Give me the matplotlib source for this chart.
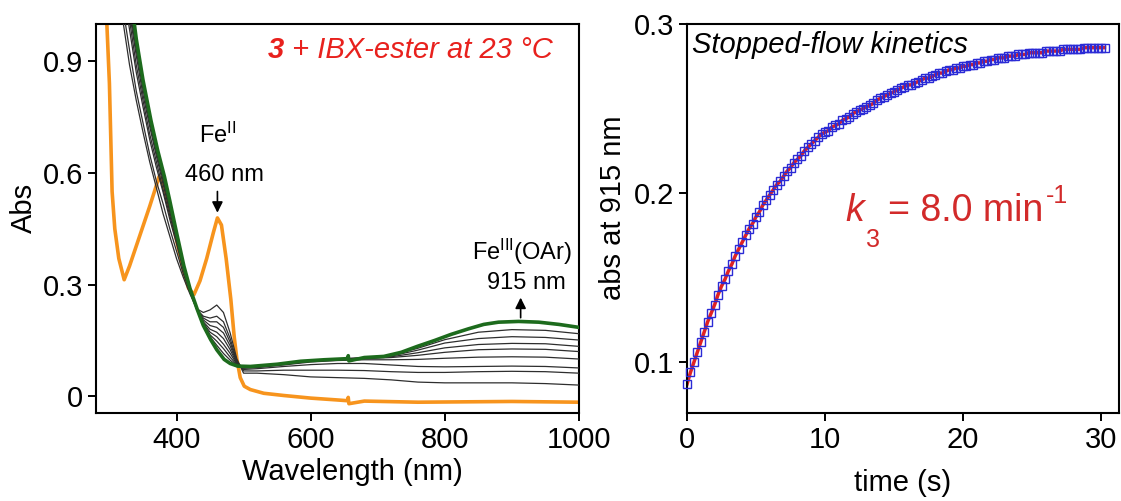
import matplotlib.pyplot as plt

plt.rcParams["font.family"] = ["Liberation Sans", "DejaVu Sans"]
plt.rcParams["mathtext.fontset"] = "custom"
plt.rcParams["mathtext.rm"] = "Liberation Sans"
plt.rcParams["mathtext.it"] = "Liberation Sans:italic"
plt.rcParams["mathtext.bf"] = "Liberation Sans:bold"

# ---- left panel: UV-vis spectra ----
orange_nm = [295, 300, 304, 308, 314, 322, 330, 345, 360, 368,
             374, 380, 390, 400, 410, 418, 426, 435, 445, 455,
             461, 467, 474, 481, 486, 490, 495, 501, 510, 530,
             560, 600, 640, 655, 656, 657, 680, 760, 900, 1000]
orange_abs = [1.05, 0.84, 0.55, 0.45, 0.37, 0.313, 0.35, 0.43, 0.51, 0.555,
              0.59, 0.57, 0.50, 0.42, 0.34, 0.29, 0.273, 0.31, 0.37, 0.44,
              0.479, 0.46, 0.37, 0.26, 0.16, 0.10, 0.05, 0.027, 0.018, 0.008,
              0.002, -0.005, -0.010, -0.012, -0.003, -0.020, -0.013, -0.016, -0.014, -0.016]

green_nm = [330, 335, 340, 350, 362, 372, 382, 390, 400, 411,
            420, 431, 440, 451, 460, 471, 480, 491, 510, 550,
            585, 620, 655, 656, 657, 680, 709, 735, 759, 785,
            809, 835, 858, 880, 910, 940, 970, 1000]
green_abs = [1.09, 1.03, 0.96, 0.85, 0.74, 0.66, 0.59, 0.525, 0.44, 0.35,
             0.29, 0.233, 0.19, 0.152, 0.125, 0.099, 0.088, 0.081, 0.080, 0.086,
             0.094, 0.098, 0.101, 0.109, 0.095, 0.104, 0.107, 0.118, 0.134, 0.150,
             0.166, 0.181, 0.193, 0.199, 0.201, 0.199, 0.193, 0.185]

gray_nm = [320, 330, 340, 350, 360, 370, 380, 390, 400, 410,
           420, 430, 440, 450, 460, 470, 480, 490, 500, 520,
           560, 600, 640, 680, 720, 760, 800, 850, 900, 950, 1000]
gray_1 = [1.01, 0.89, 0.795, 0.71, 0.63, 0.56, 0.49, 0.43, 0.37, 0.32,
          0.275, 0.235, 0.225, 0.232, 0.245, 0.225, 0.17, 0.10, 0.062, 0.062,
          0.058, 0.052, 0.050, 0.048, 0.044, 0.038, 0.036, 0.036, 0.036, 0.034, 0.030]
gray_2 = [1.045, 0.93, 0.82, 0.735, 0.65, 0.578, 0.517, 0.45, 0.39, 0.33,
          0.28, 0.234, 0.215, 0.21, 0.215, 0.20, 0.155, 0.095, 0.068, 0.068,
          0.070, 0.070, 0.070, 0.069, 0.066, 0.064, 0.064, 0.066, 0.067, 0.066, 0.062]
gray_3 = [1.10, 0.985, 0.87, 0.778, 0.69, 0.615, 0.548, 0.475, 0.41, 0.34,
          0.285, 0.234, 0.21, 0.20, 0.20, 0.185, 0.145, 0.092, 0.072, 0.074,
          0.080, 0.085, 0.088, 0.088, 0.084, 0.080, 0.079, 0.080, 0.081, 0.080, 0.076]
gray_4 = [1.13, 1.01, 0.89, 0.795, 0.705, 0.63, 0.555, 0.485, 0.418, 0.345,
          0.287, 0.234, 0.205, 0.19, 0.185, 0.17, 0.135, 0.09, 0.075, 0.077,
          0.084, 0.092, 0.096, 0.098, 0.098, 0.099, 0.102, 0.105, 0.106, 0.105, 0.100]
gray_5 = [1.15, 1.03, 0.915, 0.81, 0.725, 0.645, 0.57, 0.495, 0.425, 0.35,
          0.288, 0.234, 0.20, 0.18, 0.172, 0.155, 0.125, 0.088, 0.077, 0.078,
          0.086, 0.094, 0.098, 0.101, 0.104, 0.110, 0.118, 0.125, 0.127, 0.126, 0.120]
gray_6 = [1.16, 1.045, 0.93, 0.825, 0.735, 0.655, 0.58, 0.505, 0.43, 0.352,
          0.289, 0.235, 0.197, 0.172, 0.16, 0.14, 0.115, 0.086, 0.078, 0.079,
          0.087, 0.095, 0.099, 0.102, 0.106, 0.117, 0.130, 0.139, 0.142, 0.141, 0.134]
gray_7 = [1.17, 1.055, 0.94, 0.835, 0.745, 0.662, 0.588, 0.51, 0.435, 0.355,
          0.29, 0.236, 0.195, 0.165, 0.148, 0.128, 0.105, 0.084, 0.078, 0.080,
          0.088, 0.096, 0.100, 0.103, 0.108, 0.124, 0.143, 0.155, 0.160, 0.158, 0.151]
gray_8 = [1.18, 1.065, 0.95, 0.843, 0.752, 0.668, 0.594, 0.518, 0.438, 0.358,
          0.29, 0.237, 0.193, 0.16, 0.137, 0.115, 0.097, 0.082, 0.079, 0.080,
          0.088, 0.096, 0.100, 0.104, 0.110, 0.129, 0.152, 0.172, 0.179, 0.177, 0.168]
gray_series = [gray_1, gray_2, gray_3, gray_4, gray_5, gray_6, gray_7, gray_8]

# ---- right panel: stopped-flow trace at 915 nm ----
time_s = [0.0, 0.25, 0.5, 0.75, 1.0, 1.25, 1.5, 1.75, 2.0, 2.25,
          2.5, 2.75, 3.0, 3.25, 3.5, 3.75, 4.0, 4.25, 4.5, 4.75,
          5.0, 5.25, 5.5, 5.75, 6.0, 6.25, 6.5, 6.75, 7.0, 7.25,
          7.5, 7.75, 8.0, 8.25, 8.5, 8.75, 9.0, 9.25, 9.5, 9.75,
          10.0, 10.25, 10.5, 10.75, 11.0, 11.25, 11.5, 11.75, 12.0, 12.25,
          12.5, 12.75, 13.0, 13.25, 13.5, 13.75, 14.0, 14.25, 14.5, 14.75,
          15.0, 15.25, 15.5, 15.75, 16.0, 16.25, 16.5, 16.75, 17.0, 17.25,
          17.5, 17.75, 18.0, 18.25, 18.5, 18.75, 19.0, 19.25, 19.5, 19.75,
          20.0, 20.25, 20.5, 20.75, 21.0, 21.25, 21.5, 21.75, 22.0, 22.25,
          22.5, 22.75, 23.0, 23.25, 23.5, 23.75, 24.0, 24.25, 24.5, 24.75,
          25.0, 25.25, 25.5, 25.75, 26.0, 26.25, 26.5, 26.75, 27.0, 27.25,
          27.5, 27.75, 28.0, 28.25, 28.5, 28.75, 29.0, 29.25, 29.5, 29.75,
          30.0, 30.25]
abs_915 = [0.087, 0.094, 0.100, 0.106, 0.112, 0.118, 0.124, 0.129, 0.134, 0.140,
           0.145, 0.149, 0.154, 0.158, 0.163, 0.167, 0.171, 0.175, 0.179, 0.182,
           0.186, 0.189, 0.193, 0.196, 0.199, 0.202, 0.205, 0.207, 0.210, 0.213,
           0.215, 0.218, 0.220, 0.222, 0.225, 0.227, 0.229, 0.231, 0.233, 0.235,
           0.236, 0.237, 0.239, 0.240, 0.241, 0.243, 0.244, 0.245, 0.247, 0.248,
           0.249, 0.250, 0.251, 0.252, 0.253, 0.255, 0.256, 0.257, 0.258, 0.259,
           0.260, 0.261, 0.262, 0.263, 0.264, 0.264, 0.265, 0.266, 0.267, 0.268,
           0.268, 0.269, 0.270, 0.271, 0.271, 0.272, 0.273, 0.273, 0.274, 0.274,
           0.275, 0.275, 0.276, 0.276, 0.277, 0.277, 0.278, 0.278, 0.279, 0.279,
           0.280, 0.280, 0.280, 0.281, 0.281, 0.281, 0.282, 0.282, 0.282, 0.283,
           0.283, 0.283, 0.283, 0.283, 0.284, 0.284, 0.284, 0.284, 0.284, 0.285,
           0.285, 0.285, 0.285, 0.285, 0.285, 0.286, 0.286, 0.286, 0.286, 0.286,
           0.286, 0.286]

W, H = 1121, 501
RED = "#e8211d"
FIT_RED = "#e02222"
K_RED = "#d22a2a"


def fig_xy(x, y):
    # position given in reference-image pixels -> figure fraction
    return x / W, 1 - y / H


def style_axes(ax):
    for spine in ax.spines.values():
        spine.set_linewidth(1.5)
    ax.tick_params(direction="out", length=5.5, width=1.4, labelsize=21,
                   pad=4, top=False, right=False)


fig = plt.figure(figsize=(W / 100, H / 100), dpi=100)
ax1 = fig.add_axes([96 / W, 1 - 413 / H, 483 / W, 389 / H])
ax2 = fig.add_axes([687 / W, 1 - 413 / H, 432 / W, 389 / H])

# spectra
ax1.plot(orange_nm, orange_abs, color="#f7941d", lw=2.6, zorder=2)
for values in gray_series:
    ax1.plot(gray_nm, values, color="#2e2e2e", lw=0.9, zorder=3)
ax1.plot(green_nm, green_abs, color="#1d6b1d", lw=2.6, zorder=4)

ax1.set_xlim(280, 1000)
ax1.set_ylim(-0.045, 1.0)
ax1.set_xticks([400, 600, 800, 1000])
ax1.set_yticks([0, 0.3, 0.6, 0.9])
ax1.set_yticklabels(["0", "0.3", "0.6", "0.9"])
style_axes(ax1)
ax1.set_xlabel("Wavelength (nm)", fontsize=21)
ax1.set_ylabel("Abs", fontsize=21)
ax1.xaxis.set_label_coords(0.53, -0.115)
ax1.yaxis.set_label_coords(-0.12, 0.527)

t_main = ax1.text(0.946, 0.933, " + IBX-ester at 23 °C", transform=ax1.transAxes,
                  ha="right", va="center", color=RED, style="italic", fontsize=21)
ax1.annotate("3", xy=(0, 0.5), xycoords=t_main, ha="right", va="center",
             color=RED, style="italic", weight="bold", fontsize=21)

arrow = dict(arrowstyle="-|>", color="black", lw=1.2, mutation_scale=16,
             shrinkA=0, shrinkB=0)
ax1.annotate("", xy=(461, 0.493), xytext=(461, 0.55), arrowprops=arrow)
ax1.text(461, 0.70, r"Fe$^{\mathrm{II}}$", ha="center", va="center", fontsize=17)
ax1.text(471, 0.595, "460 nm", ha="center", va="center", fontsize=17)
ax1.annotate("", xy=(913, 0.265), xytext=(913, 0.211), arrowprops=arrow)
ax1.text(915, 0.389, r"Fe$^{\mathrm{III}}$(OAr)", ha="center", va="center", fontsize=17)
ax1.text(921, 0.305, "915 nm", ha="center", va="center", fontsize=17)

# kinetics
ax2.plot(time_s, abs_915, color=FIT_RED, lw=2.5, zorder=2)
ax2.plot(time_s, abs_915, ls="none", marker="s", ms=6, mfc="none",
         mec="#2b2bd6", mew=1.0, zorder=3, clip_on=False)
ax2.set_xlim(0, 31.3)
ax2.set_ylim(0.07, 0.3)
ax2.set_xticks([0, 10, 20, 30])
ax2.set_yticks([0.1, 0.2, 0.3])
ax2.set_yticklabels(["0.1", "0.2", "0.3"])
style_axes(ax2)
ax2.set_xlabel("time (s)", fontsize=21)
ax2.set_ylabel("abs at 915 nm", fontsize=21)
ax2.xaxis.set_label_coords(0.5, -0.145)
ax2.yaxis.set_label_coords(-0.139, 0.527)
ax2.text(0.012, 0.925, "Stopped-flow kinetics", transform=ax2.transAxes,
         ha="left", va="baseline", style="italic", fontsize=21)

fig.text(*fig_xy(845, 221), "k", style="italic", fontsize=27, color=K_RED, va="baseline")
fig.text(*fig_xy(866, 247), "3", fontsize=18, color=K_RED, va="baseline")
fig.text(*fig_xy(888, 221), "= 8.0 min", fontsize=27, color=K_RED, va="baseline")
fig.text(*fig_xy(1046, 203), "-1", fontsize=18, color=K_RED, va="baseline")

fig.savefig("out.png", dpi=100)
